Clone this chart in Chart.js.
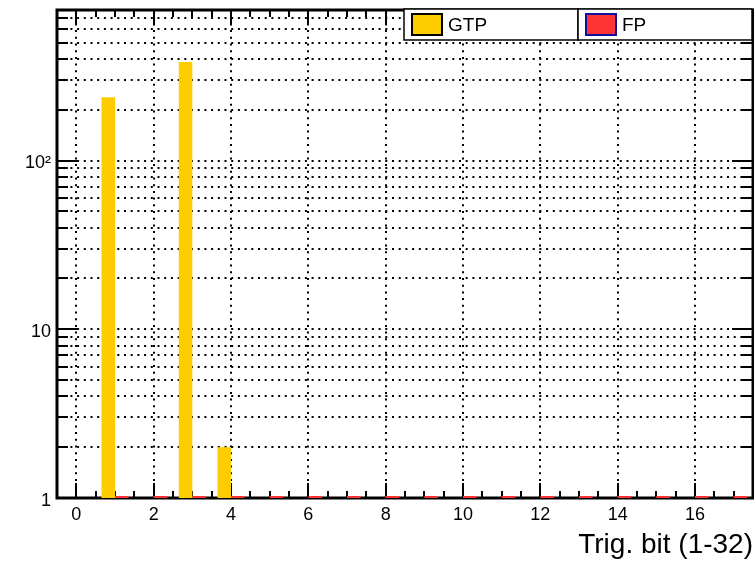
<!DOCTYPE html>
<html>
<head>
<meta charset="utf-8">
<script src="https://cdn.jsdelivr.net/npm/chart.js@4.4.0/dist/chart.umd.min.js"></script>
<style>
    html, body { margin: 0; padding: 0; background: #fff; }
    canvas { display: block; }
</style>
</head>
<body>
<canvas id="myChart" width="754" height="562"></canvas>
<script>
// trigger bits shown on the axis (1-17 visible)
const bins = [1, 2, 3, 4, 5, 6, 7, 8, 9, 10, 11, 12, 13, 14, 15, 16, 17];
const gtpCounts = [237, 0, 384, 2, 0, 0, 0, 0, 0, 0, 0, 0, 0, 0, 0, 0, 0];
const fpCounts = [1, 1, 1, 1, 1, 1, 1, 1, 1, 1, 1, 1, 1, 1, 1, 1, 1];

const xLabelValues = [0, 2, 4, 6, 8, 10, 12, 14, 16];
const yLabelValues = [1, 10, 100];
const yLabelText = ['1', '10', '10\u00b2'];
const yGridValues = [1, 2, 3, 4, 5, 6, 7, 8, 9, 10, 20, 30, 40, 50, 60, 70, 80, 90, 100, 200, 300, 400, 500, 600, 700];

const X_MIN = -0.5, X_MAX = 17.5;
const Y_MIN = 1, Y_MAX = 780;

Chart.defaults.font.family = '"Liberation Sans", Arial, sans-serif';
Chart.defaults.font.size = 18;
Chart.defaults.color = '#000';

// ROOT style frame with ticks pointing into the pad
const rootFrame = {
    id: 'rootFrame',
    beforeDatasetsDraw(chart) {
        const {ctx, chartArea: a, scales: {x, y}} = chart;
        ctx.save();
        ctx.strokeStyle = '#000';
        ctx.lineWidth = 2;
        ctx.beginPath();
        x.ticks.forEach(t => {
            if (t.value <= X_MIN || t.value >= X_MAX) return;
            const px = Math.round(x.getPixelForValue(t.value));
            const len = xLabelValues.includes(t.value) ? 15 : 7;
            ctx.moveTo(px, a.bottom); ctx.lineTo(px, a.bottom - len);
            ctx.moveTo(px, a.top); ctx.lineTo(px, a.top + len);
        });
        y.ticks.forEach(t => {
            if (t.value <= Y_MIN || t.value >= Y_MAX) return;
            const py = Math.round(y.getPixelForValue(t.value));
            const len = yLabelValues.includes(t.value) ? 21 : 11;
            ctx.moveTo(a.left, py); ctx.lineTo(a.left + len, py);
            ctx.moveTo(a.right, py); ctx.lineTo(a.right - len, py);
        });
        ctx.stroke();
        ctx.lineWidth = 3;
        ctx.strokeRect(a.left, a.top, a.right - a.left, a.bottom - a.top);
        ctx.restore();
    }
};

// boxed legend entries in the top right corner
const rootLegend = {
    id: 'rootLegend',
    afterDraw(chart) {
        const ctx = chart.ctx;
        const top = 9, h = 31, left = 404, w = 174;
        ctx.save();
        chart.data.datasets.forEach((ds, i) => {
            const x0 = left + i * w;
            ctx.fillStyle = '#fff';
            ctx.fillRect(x0, top, w, h);
            ctx.lineWidth = 1.5;
            ctx.strokeStyle = '#000';
            ctx.strokeRect(x0, top, w, h);
            ctx.fillStyle = ds.backgroundColor;
            ctx.fillRect(x0 + 8, top + 5, 30, 21);
            ctx.lineWidth = 2;
            ctx.strokeStyle = ds.legendBorder;
            ctx.strokeRect(x0 + 8, top + 5, 30, 21);
            ctx.fillStyle = '#000';
            ctx.font = '19px "Liberation Sans", Arial, sans-serif';
            ctx.textBaseline = 'middle';
            ctx.fillText(ds.label, x0 + 44, top + h / 2 + 1);
        });
        ctx.restore();
    }
};

const ctx = document.getElementById('myChart');

const chart = new Chart(ctx, {
    type: 'bar',
    data: {
        datasets: [{
            label: 'GTP',
            data: bins.map((b, i) => ({x: b, y: gtpCounts[i]})),
            backgroundColor: '#ffcc00',
            legendBorder: '#000',
            borderWidth: 0
        }, {
            label: 'FP',
            data: bins.map((b, i) => ({x: b, y: fpCounts[i]})),
            backgroundColor: '#ff3333',
            legendBorder: '#1010a0',
            borderWidth: 0,
            minBarLength: 2
        }]
    },
    options: {
        responsive: false,
        animation: false,
        events: [],
        // ruler uses the half-unit tick spacing, so 1.4 of it = 0.7 of a bin
        categoryPercentage: 1.4,
        barPercentage: 1.0,
        layout: {padding: {top: 10, right: 1, left: 0, bottom: 0}},
        plugins: {
            legend: {display: false},
            tooltip: {enabled: false}
        },
        scales: {
            x: {
                type: 'linear',
                min: X_MIN,
                max: X_MAX,
                offset: false,
                afterBuildTicks(scale) {
                    const ticks = [];
                    for (let v = X_MIN; v <= X_MAX + 1e-9; v += 0.5) ticks.push({value: v});
                    scale.ticks = ticks;
                },
                afterFit(scale) {
                    scale.height = 64;
                    scale.paddingLeft = 0;
                    scale.paddingRight = 0;
                },
                ticks: {
                    autoSkip: false,
                    maxRotation: 0,
                    padding: 6,
                    callback: v => xLabelValues.includes(v) ? String(v) : ''
                },
                grid: {
                    offset: false,
                    drawTicks: false,
                    lineWidth: 2,
                    color: c => c.tick && xLabelValues.includes(c.tick.value) ? '#000' : 'rgba(0,0,0,0)'
                },
                border: {display: false, dash: [2, 4.7]},
                title: {
                    display: true,
                    text: 'Trig. bit (1-32)',
                    align: 'end',
                    font: {size: 28},
                    padding: {top: 0, bottom: 0}
                }
            },
            y: {
                type: 'logarithmic',
                min: Y_MIN,
                max: Y_MAX,
                afterBuildTicks(scale) {
                    scale.ticks = yGridValues.map(v => ({value: v})).concat([{value: Y_MAX}]);
                },
                afterFit(scale) {
                    scale.width = 57;
                    scale.paddingTop = 0;
                    scale.paddingBottom = 0;
                },
                ticks: {
                    autoSkip: false,
                    padding: 6,
                    labelOffset: 3,
                    callback: v => {
                        const k = yLabelValues.indexOf(v);
                        return k >= 0 ? yLabelText[k] : '';
                    }
                },
                grid: {
                    drawTicks: false,
                    lineWidth: 2,
                    color: '#000'
                },
                border: {display: false, dash: [2, 4.7]}
            }
        }
    },
    plugins: [rootFrame, rootLegend]
});
</script>
</body>
</html>
